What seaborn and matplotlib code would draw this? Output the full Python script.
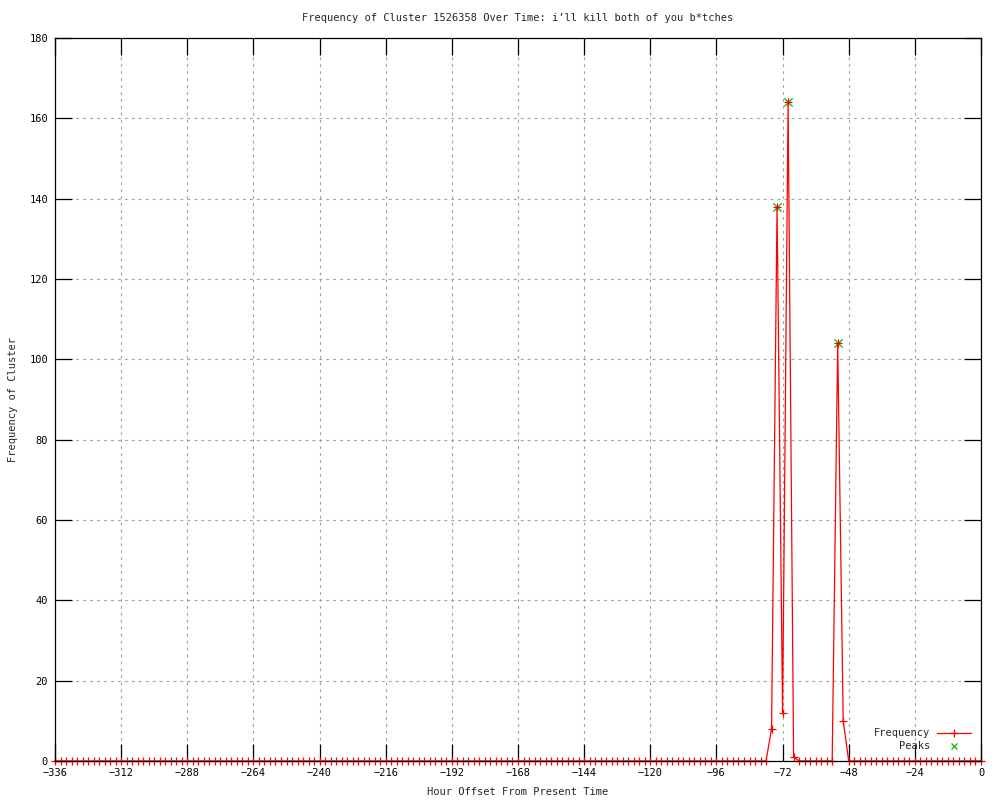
import pandas as pd
import matplotlib
matplotlib.use('Agg')
import matplotlib.pyplot as plt
import seaborn as sns

# hourly buckets (every 2 hours) from two weeks ago up to now
hours = list(range(-336, 1, 2))
frequency = [
    0, 0, 0, 0, 0, 0, 0, 0, 0, 0, 0, 0,       # -336 .. -314
    0, 0, 0, 0, 0, 0, 0, 0, 0, 0, 0, 0,       # -312 .. -290
    0, 0, 0, 0, 0, 0, 0, 0, 0, 0, 0, 0,       # -288 .. -266
    0, 0, 0, 0, 0, 0, 0, 0, 0, 0, 0, 0,       # -264 .. -242
    0, 0, 0, 0, 0, 0, 0, 0, 0, 0, 0, 0,       # -240 .. -218
    0, 0, 0, 0, 0, 0, 0, 0, 0, 0, 0, 0,       # -216 .. -194
    0, 0, 0, 0, 0, 0, 0, 0, 0, 0, 0, 0,       # -192 .. -170
    0, 0, 0, 0, 0, 0, 0, 0, 0, 0, 0, 0,       # -168 .. -146
    0, 0, 0, 0, 0, 0, 0, 0, 0, 0, 0, 0,       # -144 .. -122
    0, 0, 0, 0, 0, 0, 0, 0, 0, 0, 0, 0,       # -120 .. -98
    0, 0, 0, 0, 0, 0, 0, 0, 0, 0, 8, 138,     # -96 .. -74
    12, 164, 1, 0, 0, 0, 0, 0, 0, 0, 104, 10, # -72 .. -50
    0, 0, 0, 0, 0, 0, 0, 0, 0, 0, 0, 0,       # -48 .. -26
    0, 0, 0, 0, 0, 0, 0, 0, 0, 0, 0, 0,       # -24 .. -2
    0,                                        # 0
]
peak_hours = [-74, -70, -52]
peak_freq = [138, 164, 104]

df = pd.DataFrame({'hour': hours, 'frequency': frequency})

sns.set_theme(style='white')
plt.rcParams['font.family'] = ['DejaVu Sans Mono']
plt.rcParams['lines.scale_dashes'] = False

fig = plt.figure(figsize=(10, 8), dpi=100)
ax = fig.add_axes([0.055, 1 - 761 / 800, 0.926, 723 / 800])

red = '#ff0000'
green = '#00c000'

sns.scatterplot(x=peak_hours, y=peak_freq, ax=ax, marker='x', color=green,
                s=36, linewidth=0.9, zorder=3)
sns.lineplot(data=df, x='hour', y='frequency', ax=ax, color=red, linewidth=0.9,
             marker='+', markersize=6, markeredgewidth=0.9, markeredgecolor=red,
             clip_on=False, zorder=4)

ax.set_xlim(-336, 0)
ax.set_ylim(0, 180)
ax.set_xticks(range(-336, 1, 24))
ax.set_yticks(range(0, 181, 20))
ax.tick_params(direction='in', length=12, width=0.9, top=True, right=True,
               bottom=True, left=True, labelsize=7.5, colors='black', pad=5)
ax.grid(True, color='#a0a0a0', linestyle=(0, (2, 3)), linewidth=0.8)
for s in ax.spines.values():
    s.set_color('black')
    s.set_linewidth(0.9)
    s.set_zorder(5)

ax.set_xlabel('')
ax.set_ylabel('')
fig.text(0.518, 1 - 18 / 800, 'Frequency of Cluster 1526358 Over Time: i\u2019ll kill both of you b*tches',
         ha='center', va='center', fontsize=7.5)
fig.text(0.518, 1 - 792 / 800, 'Hour Offset From Present Time', ha='center', va='center', fontsize=7.5)
fig.text(0.013, 0.5, 'Frequency of Cluster', rotation=90, ha='center', va='center', fontsize=7.5)

# key in the lower right corner, gnuplot style (text first, then sample)
ax.text(0.945, 0.0385, 'Frequency', transform=ax.transAxes, ha='right', va='center', fontsize=7.5)
ax.text(0.945, 0.021, 'Peaks', transform=ax.transAxes, ha='right', va='center', fontsize=7.5)
ax.plot([0.953, 0.989], [0.0385, 0.0385], transform=ax.transAxes, color=red, linewidth=0.9)
ax.plot([0.971], [0.0385], transform=ax.transAxes, color=red, marker='+',
        markersize=6, markeredgewidth=0.9)
ax.plot([0.971], [0.021], transform=ax.transAxes, color=green, marker='x',
        markersize=5, markeredgewidth=0.9, linestyle='')

fig.savefig('out.png', dpi=100)
